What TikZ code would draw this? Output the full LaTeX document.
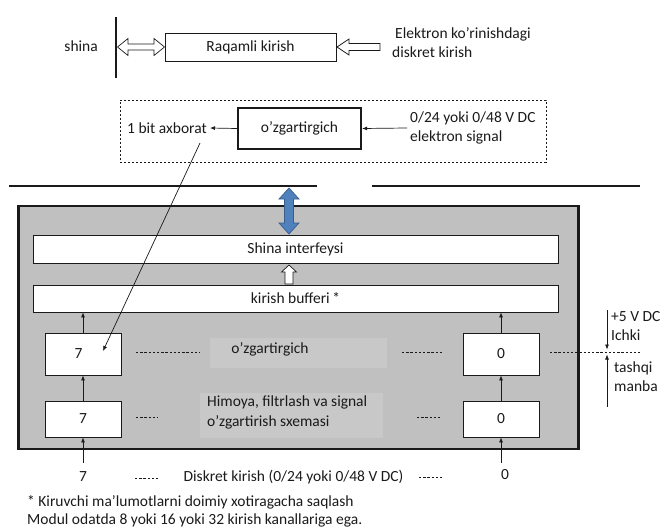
\documentclass[tikz,border=0pt]{standalone}
\usepackage{fontspec}
\setmainfont{Carlito}
\usetikzlibrary{arrows.meta}
\definecolor{ink}{HTML}{1A1A1A}
\definecolor{panel}{HTML}{C0C0C0}
\definecolor{panellight}{HTML}{C8C8C8}
\definecolor{busblue}{HTML}{4F81BD}
\definecolor{busblueline}{HTML}{385D8A}
\begin{document}
\begin{tikzpicture}[x=1pt,y=-1pt,
  every node/.style={font=\fontsize{15.5}{19.5}\selectfont, text=ink},
  txt/.style={inner sep=0pt},
  box/.style={draw=ink, fill=white, line width=0.8pt, inner sep=0pt},
  tip/.style={draw=ink, line width=0.7pt, -{Latex[length=5pt,width=4pt]}},
  hollow/.style={draw=ink, fill=white, line width=0.7pt, line join=miter},
  dots/.style={draw=ink, line width=0.7pt, dash pattern=on 2.4pt off 1.8pt}]
\useasboundingbox (0,0) rectangle (662,530);

% ---- digital input block with its bus
\coordinate (barT) at (116,17);
\coordinate (barB) at (116,78);
\draw[ink, line width=2.8pt] (barT) -- (barB);
\node[txt, anchor=east] (shina) at (98,46) {shina};
\node[box, minimum width=171, minimum height=28] (raq) at (250.5,47) {Raqamli kirish};
\node[txt, anchor=west, align=left] (elek) at (392,42.5) {\hspace*{3pt}Elektron ko'rinishdagi\\diskret kirish};
% hollow double arrow between bus and block
\draw[hollow] (117.5,47) -- (128,38.5) -- (128,44) -- (154,44) -- (154,38.5) -- (164.5,47)
  -- (154,55.5) -- (154,50) -- (128,50) -- (128,55.5) -- cycle;
% hollow arrow into the block
\draw[hollow] (337,47) -- (349,39) -- (349,43.5) -- (380,43.5) -- (380,50.5) -- (349,50.5)
  -- (349,55) -- cycle;

% ---- single channel converter
\node[draw=ink, line width=0.9pt, dash pattern=on 2.2pt off 1.8pt, minimum width=426, minimum height=62, inner sep=0pt] (dbox) at (333,131) {};
\node[box, line width=2.4pt, minimum width=123, minimum height=41] (ozg) at (299.5,128.5) {o'zgartirgich};
\node[txt, anchor=east, inner sep=3pt] (bit) at (210,128) {1 bit axborat};
\node[txt, anchor=west, align=left, inner sep=3pt] (sig) at (407,128) {0/24 yoki 0/48 V DC\\elektron signal};
\draw[tip] (ozg.west) -- (bit.east);
\draw[tip] (sig.west) -- (ozg.east);

% ---- backplane bus
\coordinate (busL1) at (9,186);
\coordinate (busL2) at (317,186);
\coordinate (busR1) at (372,186);
\coordinate (busR2) at (640,186);
\draw[ink, line width=2.8pt] (busL1) -- (busL2);
\draw[ink, line width=2.8pt] (busR1) -- (busR2);

% ---- module
\node[draw=ink, fill=panel, line width=2.8pt, minimum width=560, minimum height=243, inner sep=0pt] (mod) at (298.5,327.5) {};
\node[fill=panellight, minimum width=177, minimum height=30, inner sep=0pt] (convbg) at (298.5,353) {};
\node[fill=panellight, minimum width=183, minimum height=45, inner sep=0pt] (protbg) at (291.5,415.5) {};

\node[box, minimum width=525, minimum height=28] (iface) at (295.5,249) {Shina interfeysi};
\node[box, minimum width=525, minimum height=27] (buf) at (295.5,298.5) {kirish bufferi\,*};

% blue double arrow: bus <-> interface
\draw[busblueline, fill=busblue, line width=0.7pt, line join=miter]
  (289,188) -- (299,199) -- (293.5,199) -- (293.5,223) -- (299,223) -- (289,234)
  -- (279,223) -- (284.5,223) -- (284.5,199) -- (279,199) -- cycle;
% hollow arrow: buffer -> interface
\draw[hollow] (289,265) -- (296.5,272) -- (293,272) -- (293,284) -- (285,284)
  -- (285,272) -- (281.5,272) -- cycle;

% channel boxes
\node[box, minimum width=76, minimum height=42] (up7) at (83,354) {7\hspace*{9pt}};
\node[box, minimum width=76, minimum height=42] (up0) at (501,354) {0};
\node[box, minimum width=76, minimum height=36] (lo7) at (83,419) {7};
\node[box, minimum width=76, minimum height=36] (lo0) at (501,419) {0};

\node[txt] (convtxt) at (270,349) {o'zgartirgich};
\node[txt, anchor=west, align=left] (prottxt) at (207,412.5) {Himoya, filtrlash va signal\\o'zgartirish sxemasi};

\draw[dots] (136,352) -- (200,352);
\draw[dots] (402,352) -- (442,352);
\draw[dots] (136,417) -- (158,417);
\draw[dots] (417,417) -- (442,417);

\draw[tip] (up7.north) -- (up7.north |- buf.south);
\draw[tip] (up0.north) -- (up0.north |- buf.south);
\draw[tip] (lo7.north) -- (up7.south);
\draw[tip] (lo0.north) -- (up0.south);

% inputs
\node[txt] (in7) at (83,477) {7};
\node[txt] (in0) at (505,475) {0};
\coordinate (in7top) at (83,463);
\coordinate (in0top) at (501,463);
\draw[tip] (in7top) -- (lo7.south);
\draw[tip] (in0top) -- (lo0.south);
\node[txt] (diskret) at (293.5,477) {Diskret kirish (0/24 yoki 0/48 V DC)};
\draw[dots] (135,478) -- (158,478);
\draw[dots] (419,477) -- (444,477);

% converter output goes to channel 7
\coordinate (bitfoot) at (200,143);
\coordinate (ch7pt) at (103,351);
\draw[tip] (bitfoot) -- (ch7pt);

% supply
\coordinate (supT) at (607,310);
\coordinate (supB) at (607,407);
\coordinate (supM1) at (607,349.5);
\coordinate (supM2) at (607,354.5);
\coordinate (dashA) at (550,352);
\coordinate (dashB) at (640,352);
\draw[dots] (dashA) -- (dashB);
\draw[tip] (supT) -- (supM1);
\draw[tip] (supB) -- (supM2);
\node[txt, anchor=west] (p5) at (611,317) {+5 V DC};
\node[txt, anchor=west] (ichki) at (611,335) {Ichki};
\node[txt, anchor=west] (tashqi) at (614,368) {tashqi};
\node[txt, anchor=west] (manba) at (614,386) {manba};

% notes
\node[txt, anchor=west] (note1) at (27,502) {* Kiruvchi ma'lumotlarni doimiy xotiragacha saqlash};
\node[txt, anchor=west] (note2) at (27,520) {Modul odatda 8 yoki 16 yoki 32 kirish kanallariga ega.};
\end{tikzpicture}
\end{document}
